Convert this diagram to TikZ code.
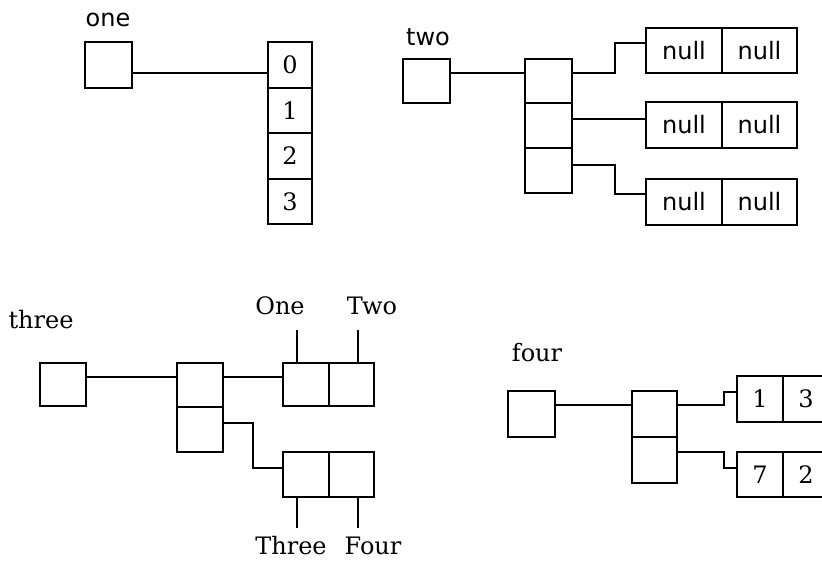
\documentclass[tikz,border=0pt]{standalone}
\usepackage{fontspec}
\newfontfamily\lblserif{DejaVu Serif}
\newfontfamily\lblsans{DejaVu Sans}
\tikzset{
  wire/.style={line width=1.6pt},
  cellbox/.style={draw, line width=1.6pt, inner sep=0pt, anchor=center},
  txtserif/.style={font=\lblserif\fontsize{24}{28}\selectfont, inner sep=0pt},
  txtsans/.style={font=\lblsans\fontsize{24}{28}\selectfont, inner sep=0pt},
  digit/.style={font=\lblserif\fontsize{24}{28}\selectfont},
  nulltxt/.style={font=\lblsans\fontsize{24}{28}\selectfont}
}
\begin{document}
\begin{tikzpicture}[x=1pt, y=-1pt]
\useasboundingbox (0,0) rectangle (822,563);
\fill[white] (0,0) rectangle (822,563);

% ---- one: a reference to an int array
\node[txtsans] (lone) at (108,20) {one};
\node[cellbox, minimum width=47pt, minimum height=46pt] (pone) at (108.5,65) {};
\node[cellbox, digit, minimum width=44pt, minimum height=45.5pt] (a0) at (290,65) {0};
\node[cellbox, digit, minimum width=44pt, minimum height=45.5pt] (a1) at (290,110.5) {1};
\node[cellbox, digit, minimum width=44pt, minimum height=45.5pt] (a2) at (290,156) {2};
\node[cellbox, digit, minimum width=44pt, minimum height=45.5pt] (a3) at (290,201.5) {3};
\draw[wire] ([yshift=-8pt]pone.east) -- ([yshift=-8pt]pone.east -| a0.west);

% ---- two: an array of three rows, each holding two nulls
\node[txtsans] (ltwo) at (428,37) {two};
\node[cellbox, minimum width=47pt, minimum height=44pt] (ptwo) at (426.5,81) {};
\node[cellbox, minimum width=47pt, minimum height=44.5pt] (b0) at (548.5,81) {};
\node[cellbox, minimum width=47pt, minimum height=45pt] (b1) at (548.5,125.5) {};
\node[cellbox, minimum width=47pt, minimum height=45pt] (b2) at (548.5,170.5) {};
\draw[wire] ([yshift=8pt]ptwo.east) -- ([yshift=8pt]ptwo.east -| b0.west);

\node[cellbox, nulltxt, minimum width=76pt, minimum height=45pt] (n00) at (684,50.5) {null};
\node[cellbox, nulltxt, minimum width=75pt, minimum height=45pt] (n01) at (759.5,50.5) {null};
\node[cellbox, nulltxt, minimum width=76pt, minimum height=46pt] (n10) at (684,125) {null};
\node[cellbox, nulltxt, minimum width=75pt, minimum height=46pt] (n11) at (759.5,125) {null};
\node[cellbox, nulltxt, minimum width=76pt, minimum height=46pt] (n20) at (684,202) {null};
\node[cellbox, nulltxt, minimum width=75pt, minimum height=46pt] (n21) at (759.5,202) {null};

\draw[wire] ([yshift=8pt]b0.east) -- ++(42,0) |- ([yshift=7.5pt]n00.west);
\draw[wire] ([yshift=6.5pt]b1.east) -- ([yshift=6.5pt]b1.east -| n10.west);
\draw[wire] ([yshift=5.5pt]b2.east) -- ++(42,0) |- ([yshift=8pt]n20.west);

% ---- three: two rows of String pairs
\node[txtserif] (lthree) at (41,320) {three};
\node[cellbox, minimum width=46pt, minimum height=43pt] (pthree) at (63,384.5) {};
\node[cellbox, minimum width=46pt, minimum height=44pt] (c0) at (200,385) {};
\node[cellbox, minimum width=46pt, minimum height=45pt] (c1) at (200,429.5) {};
\draw[wire] ([yshift=7.5pt]pthree.east) -- ([yshift=7.5pt]pthree.east -| c0.west);

\node[cellbox, minimum width=46pt, minimum height=43pt] (d0) at (306,384.5) {};
\node[cellbox, minimum width=45pt, minimum height=43pt] (d1) at (351.5,384.5) {};
\node[cellbox, minimum width=46pt, minimum height=45pt] (e0) at (306,474.5) {};
\node[cellbox, minimum width=45pt, minimum height=45pt] (e1) at (351.5,474.5) {};

\draw[wire] ([yshift=8pt]c0.east) -- ([yshift=8pt]c0.east -| d0.west);
\draw[wire] ([yshift=6.5pt]c1.east) -- ++(29,0) |- ([yshift=6.5pt]e0.west);

\node[txtserif] (lOne) at (280,306) {One};
\node[txtserif] (lTwo) at (372,306) {Two};
\node[txtserif] (lThree) at (291,546) {Three};
\node[txtserif] (lFour) at (373,546) {Four};

\coordinate (tOne) at (297,330);
\coordinate (tTwo) at (358,330);
\coordinate (tThree) at (297,528);
\coordinate (tFour) at (358,528);
\draw[wire] (tOne) -- (tOne |- d0.north);
\draw[wire] (tTwo) -- (tTwo |- d1.north);
\draw[wire] (tThree) -- (tThree |- e0.south);
\draw[wire] (tFour) -- (tFour |- e1.south);

% ---- four: two rows of int pairs
\node[txtserif] (lfour) at (537,353) {four};
\node[cellbox, minimum width=47pt, minimum height=46pt] (pfour) at (531.5,414) {};
\node[cellbox, minimum width=45pt, minimum height=46pt] (f0) at (654.5,414) {};
\node[cellbox, minimum width=45pt, minimum height=46pt] (f1) at (654.5,460) {};
\draw[wire] ([yshift=9pt]pfour.east) -- ([yshift=9pt]pfour.east -| f0.west);

\node[cellbox, digit, minimum width=46pt, minimum height=46pt] (g00) at (760,399) {1};
\node[cellbox, digit, minimum width=46pt, minimum height=46pt] (g01) at (806,399) {3};
\node[cellbox, digit, minimum width=46pt, minimum height=45pt] (g10) at (760,474.5) {7};
\node[cellbox, digit, minimum width=46pt, minimum height=45pt] (g11) at (806,474.5) {2};

\draw[wire] ([yshift=9pt]f0.east) -- ++(46,0) |- ([yshift=7pt]g00.west);
\draw[wire] ([yshift=8pt]f1.east) -- ++(46,0) |- ([yshift=6.5pt]g10.west);
\end{tikzpicture}
\end{document}
